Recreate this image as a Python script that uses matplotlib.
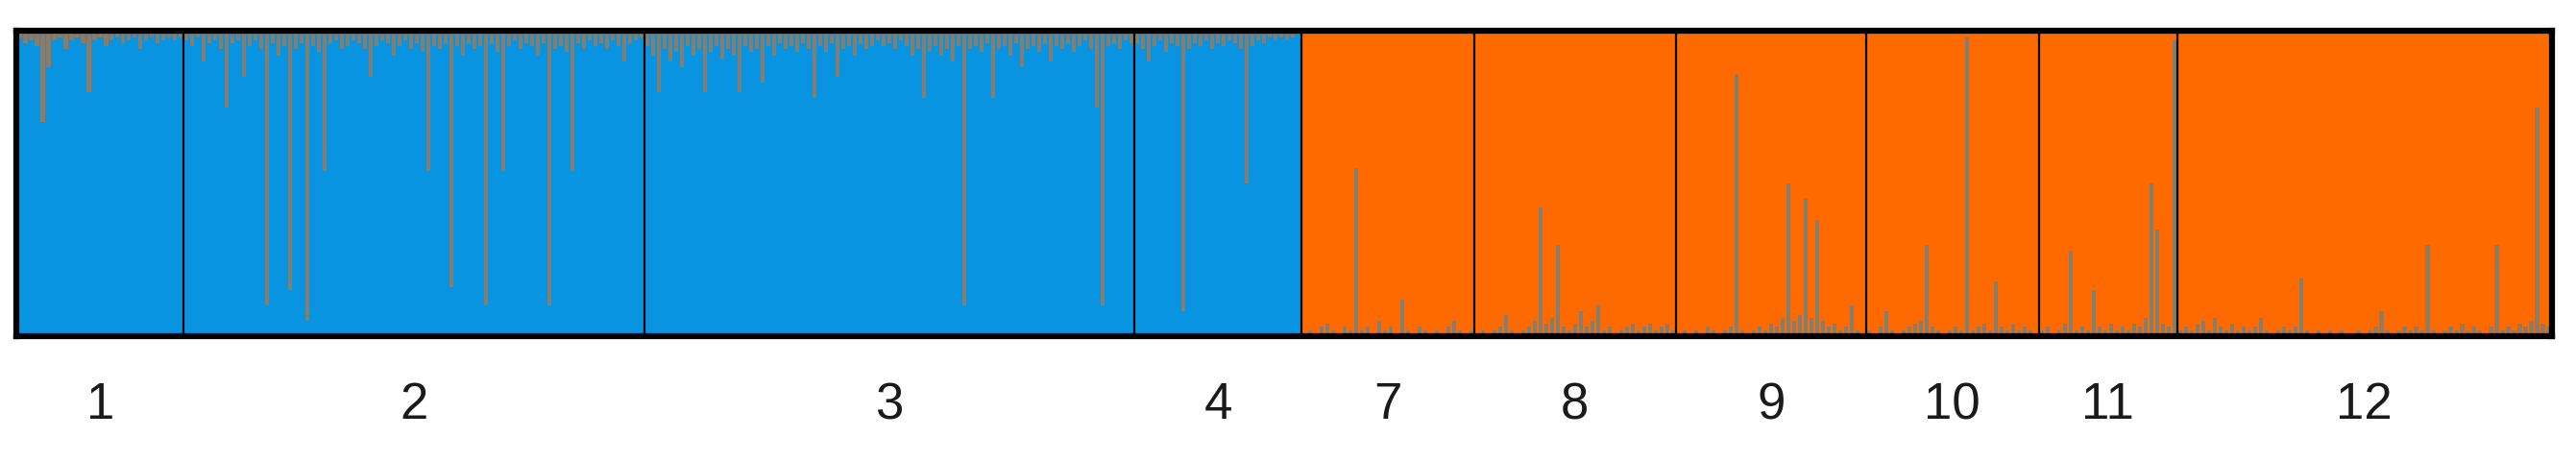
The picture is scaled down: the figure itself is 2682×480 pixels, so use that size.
import numpy as np
import matplotlib
matplotlib.use("Agg")
from matplotlib import pyplot as plt

plt.rcParams['font.family'] = ['Liberation Sans', 'DejaVu Sans']

# population labels and the cluster each population mostly belongs to
pops = ["1", "2", "3", "4", "7", "8", "9", "10", "11", "12"]
main_cluster = ["blue", "blue", "blue", "blue", "orange", "orange", "orange", "orange", "orange", "orange"]

# share of the *other* cluster for every individual, population by population
q_pop1 = [0.02, 0.04, 0.03, 0.05, 0.30, 0.12, 0.03, 0.02, 0.06, 0.03,
          0.02, 0.04, 0.20, 0.03, 0.02, 0.05, 0.03, 0.02, 0.04, 0.03,
          0.02, 0.06, 0.03, 0.02, 0.04, 0.03, 0.02, 0.03, 0.02]
q_pop2 = [0.03, 0.05, 0.02, 0.10, 0.04, 0.03, 0.06, 0.25, 0.04, 0.03,
          0.15, 0.05, 0.03, 0.06, 0.90, 0.04, 0.08, 0.05, 0.85, 0.06,
          0.04, 0.95, 0.05, 0.07, 0.46, 0.04, 0.03, 0.06, 0.05, 0.03,
          0.04, 0.06, 0.15, 0.05, 0.03, 0.04, 0.08, 0.05, 0.03, 0.06,
          0.04, 0.07, 0.46, 0.05, 0.06, 0.04, 0.84, 0.05, 0.08, 0.04,
          0.06, 0.05, 0.90, 0.04, 0.07, 0.46, 0.05, 0.03, 0.06, 0.04,
          0.05, 0.08, 0.04, 0.90, 0.06, 0.05, 0.07, 0.46, 0.04, 0.06,
          0.03, 0.05, 0.04, 0.06, 0.03, 0.05, 0.10, 0.04, 0.03, 0.02]
q_pop3 = [0.05, 0.08, 0.20, 0.06, 0.10, 0.07, 0.12, 0.05, 0.08, 0.06,
          0.20, 0.07, 0.05, 0.09, 0.06, 0.08, 0.20, 0.05, 0.07, 0.06,
          0.17, 0.05, 0.08, 0.04, 0.06, 0.05, 0.07, 0.04, 0.06, 0.22,
          0.05, 0.07, 0.04, 0.15, 0.06, 0.05, 0.08, 0.04, 0.06, 0.05,
          0.03, 0.05, 0.04, 0.06, 0.03, 0.05, 0.08, 0.06, 0.22, 0.07,
          0.05, 0.08, 0.06, 0.10, 0.05, 0.90, 0.06, 0.05, 0.07, 0.04,
          0.22, 0.06, 0.05, 0.08, 0.04, 0.12, 0.06, 0.05, 0.07, 0.04,
          0.10, 0.05, 0.06, 0.04, 0.07, 0.05, 0.03, 0.06, 0.25, 0.90,
          0.05, 0.04, 0.06, 0.03, 0.04]
q_pop4 = [0.04, 0.06, 0.10, 0.05, 0.03, 0.07, 0.04, 0.05, 0.92, 0.06,
          0.04, 0.05, 0.03, 0.06, 0.04, 0.05, 0.03, 0.04, 0.06, 0.50,
          0.05, 0.03, 0.04, 0.02, 0.03, 0.02, 0.03, 0.02, 0.01]
q_pop7 = [0.01, 0.02, 0.01, 0.03, 0.04, 0.02, 0.01, 0.03, 0.02, 0.55,
          0.02, 0.03, 0.01, 0.05, 0.02, 0.03, 0.01, 0.12, 0.02, 0.01,
          0.03, 0.02, 0.01, 0.02, 0.01, 0.03, 0.05, 0.02, 0.01, 0.02]
q_pop8 = [0.01, 0.02, 0.01, 0.02, 0.03, 0.07, 0.02, 0.01, 0.02, 0.03,
          0.05, 0.42, 0.04, 0.06, 0.30, 0.03, 0.02, 0.04, 0.08, 0.03,
          0.05, 0.10, 0.02, 0.03, 0.01, 0.02, 0.03, 0.04, 0.02, 0.03,
          0.04, 0.02, 0.03, 0.04, 0.02]
q_pop9 = [0.01, 0.02, 0.01, 0.02, 0.01, 0.03, 0.02, 0.01, 0.02, 0.03,
          0.86, 0.02, 0.01, 0.02, 0.03, 0.02, 0.04, 0.03, 0.06, 0.50,
          0.05, 0.07, 0.45, 0.06, 0.38, 0.05, 0.03, 0.04, 0.02, 0.03,
          0.10, 0.02, 0.01]
q_pop10 = [0.02, 0.01, 0.03, 0.08, 0.02, 0.01, 0.02, 0.03, 0.04, 0.05,
           0.30, 0.03, 0.02, 0.01, 0.02, 0.03, 0.02, 0.98, 0.02, 0.03,
           0.04, 0.02, 0.18, 0.03, 0.02, 0.04, 0.02, 0.03, 0.02, 0.01]
q_pop11 = [0.02, 0.03, 0.01, 0.02, 0.04, 0.28, 0.02, 0.03, 0.02, 0.15,
           0.03, 0.02, 0.04, 0.02, 0.03, 0.02, 0.04, 0.03, 0.06, 0.50,
           0.35, 0.04, 0.03, 0.97]
q_pop12 = [0.02, 0.03, 0.02, 0.04, 0.05, 0.02, 0.06, 0.03, 0.02, 0.04,
           0.02, 0.03, 0.02, 0.03, 0.06, 0.02, 0.01, 0.02, 0.03, 0.02,
           0.03, 0.19, 0.02, 0.01, 0.02, 0.01, 0.02, 0.01, 0.02, 0.01,
           0.01, 0.02, 0.01, 0.02, 0.03, 0.08, 0.02, 0.01, 0.02, 0.03,
           0.02, 0.03, 0.02, 0.30, 0.02, 0.01, 0.02, 0.03, 0.02, 0.04,
           0.02, 0.03, 0.02, 0.01, 0.03, 0.30, 0.02, 0.03, 0.02, 0.04,
           0.03, 0.05, 0.75, 0.04, 0.03]

q_all = [q_pop1, q_pop2, q_pop3, q_pop4, q_pop7, q_pop8, q_pop9, q_pop10, q_pop11, q_pop12]

BLUE = "#0894E0"
ORANGE = "#FF6A00"

# blue share per individual (blue sits at the bottom of every bar)
blue_share = []
major_is_blue = []
for q, cl in zip(q_all, main_cluster):
    q = np.array(q)
    blue_share.append(1 - q if cl == "blue" else q)
    major_is_blue.append(np.full(len(q), cl == "blue"))
blue_share = np.concatenate(blue_share)
major_is_blue = np.concatenate(major_is_blue)
n = len(blue_share)
x = np.arange(n)

sizes = [len(q) for q in q_all]
edges = np.concatenate([[0], np.cumsum(sizes)]) - 0.5
centers = (edges[:-1] + edges[1:]) / 2

fig = plt.figure(figsize=(26.82, 4.8), dpi=100)
ax = fig.add_axes([0.0065, 0.271, 0.984, 0.662])

# full bars in the main colour of each population
ax.bar(x, np.ones(n), width=1.0, linewidth=0,
       color=[BLUE if b else ORANGE for b in major_is_blue])

# admixed part: orange on top in blue populations, blue at the bottom in orange ones
bi = major_is_blue
ax.bar(x[bi], 1 - blue_share[bi], bottom=blue_share[bi], width=0.7,
       color=ORANGE, alpha=0.5, linewidth=0)
ax.bar(x[~bi], blue_share[~bi], width=0.7, color=BLUE, alpha=0.5, linewidth=0)

for e in edges[1:-1]:
    ax.axvline(e, color="black", linewidth=1.6)

ax.set_xlim(edges[0], edges[-1])
ax.set_ylim(0, 1)
ax.set_yticks([])
ax.set_xticks(centers)
ax.set_xticklabels(pops, fontsize=38, color="#1a1a1a")
ax.tick_params(axis="x", length=0, pad=34)
for s in ax.spines.values():
    s.set_linewidth(4.5)
    s.set_color("black")

fig.savefig("out.png", dpi=100)
